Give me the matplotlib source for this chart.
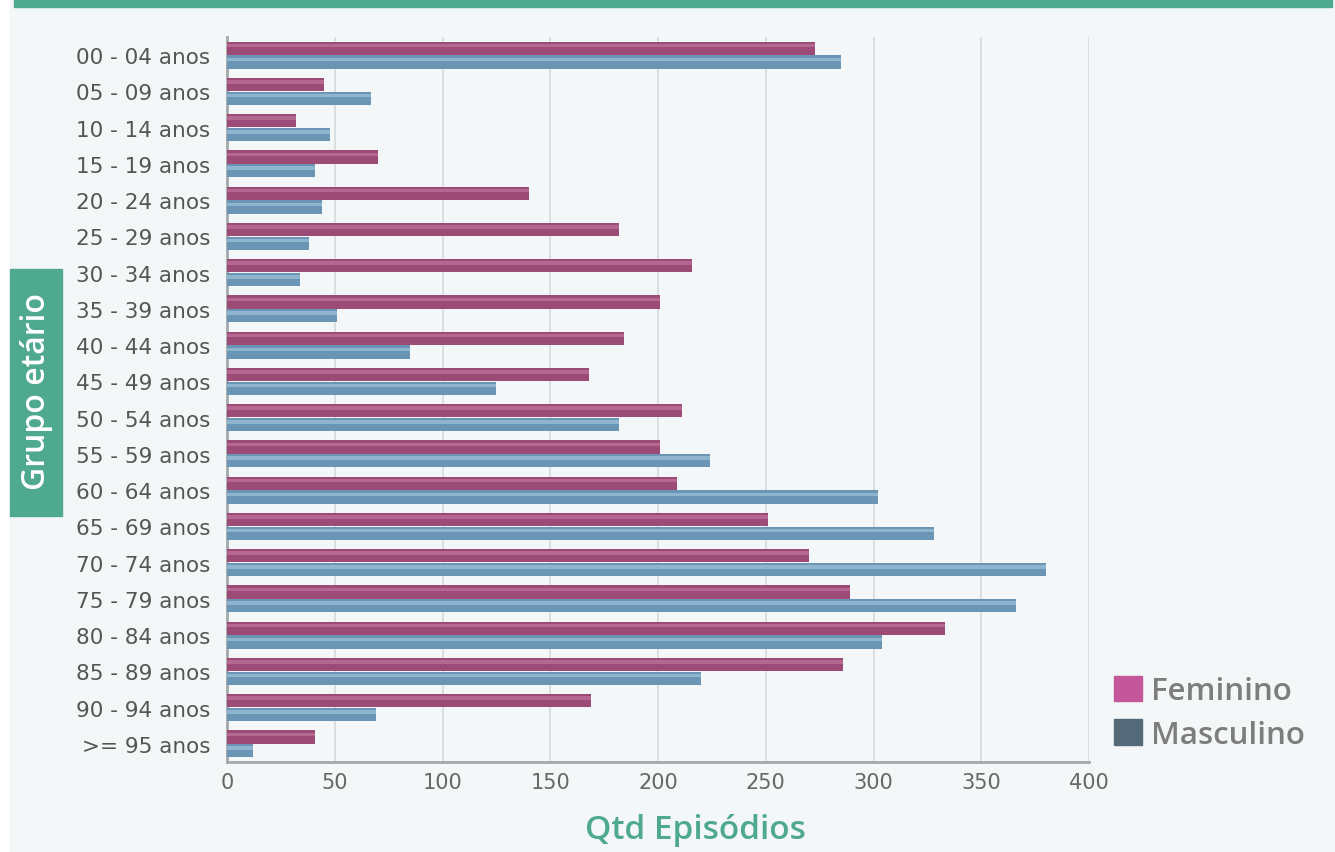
"""Episodes by age group and sex, horizontal grouped bars."""

import matplotlib.pyplot as plt
import numpy as np
from matplotlib.patches import Patch, Rectangle

age_groups = [
    "00 - 04 anos", "05 - 09 anos", "10 - 14 anos", "15 - 19 anos",
    "20 - 24 anos", "25 - 29 anos", "30 - 34 anos", "35 - 39 anos",
    "40 - 44 anos", "45 - 49 anos", "50 - 54 anos", "55 - 59 anos",
    "60 - 64 anos", "65 - 69 anos", "70 - 74 anos", "75 - 79 anos",
    "80 - 84 anos", "85 - 89 anos", "90 - 94 anos", ">= 95 anos",
]
feminino = [273, 45, 32, 70, 140, 182, 216, 201, 184, 168,
            211, 201, 209, 251, 270, 289, 333, 286, 169, 41]
masculino = [285, 67, 48, 41, 44, 38, 34, 51, 85, 125,
             182, 224, 302, 328, 380, 366, 304, 220, 69, 12]
x_ticks = [0, 50, 100, 150, 200, 250, 300, 350, 400]

TEAL = "#4fa98f"
BG = "#f3f7f7"
LABEL_FONT = {"family": "Open Sans", "weight": 600}

fig = plt.figure(figsize=(13.35, 8.53), dpi=100, facecolor="white")
W, H = 1335, 853

# panel background, top band and y-label box
fig.patches.append(Rectangle((10 / W, 0), 1 - 10 / W, 1, transform=fig.transFigure,
                             color=BG, zorder=-5))
fig.patches.append(Rectangle((14 / W, 1 - 8 / H), 1318 / W, 8 / H,
                             transform=fig.transFigure, color=TEAL, zorder=-4))
fig.patches.append(Rectangle((10 / W, 1 - 517 / H), 52 / W, 247 / H,
                             transform=fig.transFigure, color=TEAL, zorder=-4))
fig.text(37 / W, 1 - 392 / H, "Grupo etário", rotation=90, ha="center", va="center",
         color="white", fontsize=23, **LABEL_FONT)

ax = fig.add_axes([227 / W, 1 - 763 / H, 862 / W, 725 / H])
ax.set_facecolor(BG)

y = np.arange(len(age_groups))
h = 0.36
off = 0.19

# base bars with a lighter stripe for the glossy look
ax.barh(y - off, feminino, height=h, color="#9c4a76", zorder=3)
ax.barh(y - off - h * 0.2, feminino, height=h * 0.28, color="#b46790", zorder=4)
ax.barh(y + off, masculino, height=h, color="#6b95b5", zorder=3)
ax.barh(y + off - h * 0.2, masculino, height=h * 0.28, color="#8fb4cd", zorder=4)

ax.set_ylim(len(age_groups) - 0.5, -0.5)
ax.set_xlim(0, 400)
ax.set_yticks(y)
ax.set_yticklabels(age_groups)
ax.set_xticks(x_ticks)
ax.tick_params(axis="y", length=0, labelsize=15.5, labelcolor="#555555", pad=12)
ax.tick_params(axis="x", length=0, labelsize=15, labelcolor="#666666", pad=7)

ax.grid(axis="x", color="#d6d9dc", linewidth=1.2, zorder=0)
for side in ["top", "right"]:
    ax.spines[side].set_visible(False)
for side in ["left", "bottom"]:
    ax.spines[side].set_color("#a3a8ae")
    ax.spines[side].set_linewidth(2)

fig.text(695 / W, 1 - 831 / H, "Qtd Episódios", ha="center", va="center",
         color=TEAL, fontsize=24, **LABEL_FONT)

handles = [Patch(color="#c4579a", label="Feminino"),
           Patch(color="#546a78", label="Masculino")]
fig.legend(handles=handles, loc="upper left", bbox_to_anchor=(1101 / W, 1 - 664 / H),
           frameon=False, prop={"family": "Open Sans", "weight": 600, "size": 22.5},
           labelcolor="#7d7d7d", handlelength=0.9, handleheight=0.9,
           handletextpad=0.3, labelspacing=0.42, borderaxespad=0)

plt.savefig("out.png", dpi=100, facecolor=fig.get_facecolor())
plt.close()
